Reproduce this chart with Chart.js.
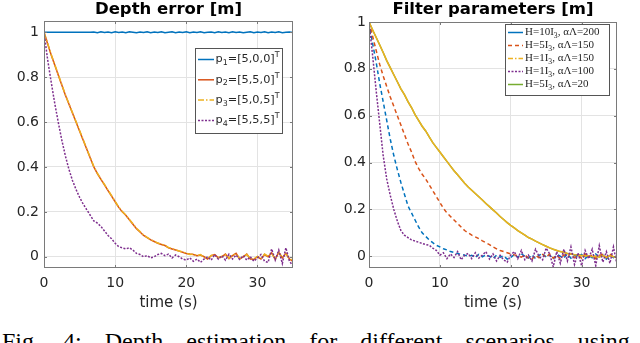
<!DOCTYPE html>
<html>
<head>
<meta charset="utf-8">
<script src="https://cdn.jsdelivr.net/npm/chart.js@4.4.1/dist/chart.umd.min.js"></script>
<style>
  body { margin: 0; width: 640px; height: 343px; overflow: hidden; background: #fff; position: relative; }
  canvas { position: absolute; top: 0; }
  #left { left: 0; }
  #right { left: 320px; }
  #caption {
    position: absolute; left: 2px; top: 329px;
    font-family: "Liberation Serif", serif; font-size: 24px; line-height: 24px;
    word-spacing: 17px; white-space: nowrap; color: #000;
  }
</style>
</head>
<body>
<canvas id="left" width="320" height="312"></canvas>
<canvas id="right" width="320" height="312"></canvas>
<div id="caption">Fig. 4: Depth estimation for different scenarios using</div>
<script>
// time axis (s), sampled every 0.5 s
const time = [
  0, 0.5, 1, 1.5, 2, 2.5, 3, 3.5, 4, 4.5,
  5, 5.5, 6, 6.5, 7, 7.5, 8, 8.5, 9, 9.5,
  10, 10.5, 11, 11.5, 12, 12.5, 13, 13.5, 14, 14.5,
  15, 15.5, 16, 16.5, 17, 17.5, 18, 18.5, 19, 19.5,
  20, 20.5, 21, 21.5, 22, 22.5, 23, 23.5, 24, 24.5,
  25, 25.5, 26, 26.5, 27, 27.5, 28, 28.5, 29, 29.5,
  30, 30.5, 31, 31.5, 32, 32.5, 33, 33.5, 34, 34.5,
  35
];

// left panel: depth error
const depthP1 = [
  1, 1, 1, 1, 1, 1, 1, 1, 1, 1,
  1, 1, 1, 1, 1.001, 0.998, 1.002, 0.999, 1.001, 0.998,
  1.002, 0.999, 1.001, 0.998, 1.002, 1, 0.998, 1.001, 0.999, 1.002,
  0.998, 1.001, 0.999, 1.002, 0.998, 1, 1.002, 0.998, 1.001, 0.999,
  1.002, 0.998, 1.001, 0.999, 1.002, 0.998, 1, 1.001, 0.998, 1.002,
  0.999, 1.001, 0.998, 1.002, 0.999, 1.001, 0.998, 1, 1.002, 0.998,
  1.001, 0.999, 1.002, 0.998, 1.001, 0.999, 1.002, 0.998, 1, 1.001,
  0.999
];
const depthP2 = [
  1.00, 0.95, 0.90, 0.855, 0.81, 0.765, 0.72, 0.68, 0.64, 0.60,
  0.56, 0.52, 0.48, 0.44, 0.40, 0.37, 0.345, 0.32, 0.295, 0.27,
  0.245, 0.22, 0.20, 0.185, 0.165, 0.145, 0.125, 0.11, 0.095, 0.085,
  0.075, 0.068, 0.06, 0.055, 0.05, 0.04, 0.035, 0.03, 0.025, 0.02,
  0.015, 0.012, 0.01, 0.005, 0.008, 0.0, -0.01, 0.005, 0.01, -0.005,
  0.0, 0.012, -0.008, 0.005, 0.015, -0.01, 0.0, 0.012, -0.01, -0.012,
  0.0, -0.01, 0.01, 0.0, 0.018, -0.012, 0.02, -0.005, 0.015, -0.01,
  -0.02
];
const depthP3 = [
  1.00, 0.952, 0.902, 0.857, 0.812, 0.767, 0.722, 0.682, 0.642, 0.602,
  0.562, 0.522, 0.482, 0.442, 0.402, 0.372, 0.347, 0.322, 0.297, 0.272,
  0.247, 0.222, 0.202, 0.186, 0.166, 0.147, 0.127, 0.112, 0.097, 0.086,
  0.076, 0.069, 0.061, 0.056, 0.051, 0.041, 0.036, 0.031, 0.026, 0.021,
  0.016, 0.01, 0.012, 0.004, 0.01, -0.002, -0.008, 0.006, 0.008, -0.004,
  0.002, 0.01, -0.006, 0.007, 0.013, -0.008, 0.002, 0.01, -0.008, -0.01,
  0.002, -0.008, 0.012, 0.002, 0.015, -0.01, 0.018, -0.003, 0.012, -0.008,
  -0.015
];
const depthP4 = [
  1.00, 0.88, 0.78, 0.685, 0.60, 0.52, 0.45, 0.39, 0.34, 0.30,
  0.265, 0.235, 0.21, 0.185, 0.16, 0.15, 0.135, 0.115, 0.095, 0.08,
  0.06, 0.045, 0.04, 0.035, 0.04, 0.03, 0.015, 0.01, 0.0, 0.005,
  -0.005, 0.0, 0.01, 0.015, 0.005, 0.012, -0.005, 0.008, 0.0, -0.01,
  -0.015, -0.005, -0.02, -0.01, -0.025, -0.01, 0.0, -0.015, 0.01, -0.01,
  0.005, -0.015, 0.012, -0.01, 0.008, -0.012, 0.005, -0.015, 0.0, -0.02,
  -0.005, 0.01, -0.02, -0.025, 0.035, -0.015, 0.03, -0.03, 0.04, -0.02,
  -0.04
];

// right panel: filter parameters
const filtH10 = [
  1.0, 0.91, 0.83, 0.74, 0.66, 0.58, 0.50, 0.43, 0.37, 0.315,
  0.265, 0.215, 0.185, 0.155, 0.125, 0.10, 0.085, 0.07, 0.058, 0.047,
  0.04, 0.032, 0.027, 0.02, 0.016, 0.012, 0.008, 0.005, 0.0, 0.004,
  -0.005, 0.008, -0.002, 0.006, 0.0, -0.01, 0.005, -0.004, 0.002, -0.012,
  -0.006, 0.008, -0.004, 0.01, 0.0, -0.008, 0.006, -0.01, 0.004, 0.012,
  -0.004, 0.006, -0.012, 0.008, 0.0, -0.006, 0.01, -0.008, 0.004, -0.002,
  0.008, -0.01, 0.004, -0.006, 0.01, -0.004, 0.006, -0.012, 0.004, -0.006,
  0.0
];
const filtH5 = [
  1.0, 0.94, 0.88, 0.82, 0.77, 0.725, 0.68, 0.64, 0.60, 0.56,
  0.52, 0.48, 0.445, 0.405, 0.375, 0.35, 0.33, 0.305, 0.28, 0.255,
  0.23, 0.205, 0.185, 0.17, 0.155, 0.14, 0.125, 0.11, 0.1, 0.09,
  0.083, 0.075, 0.066, 0.058, 0.05, 0.04, 0.032, 0.025, 0.02, 0.015,
  0.01, 0.006, 0.002, -0.004, 0.006, -0.008, -0.012, 0.004, -0.006, 0.008,
  -0.004, 0.01, -0.008, 0.004, -0.01, 0.006, 0.0, 0.012, -0.006, 0.004,
  -0.008, 0.01, -0.004, 0.006, -0.01, 0.004, 0.008, -0.006, 0.01, -0.004,
  0.002
];
const filtH1a = [
  1.0, 0.967, 0.935, 0.903, 0.87, 0.835, 0.805, 0.775, 0.745, 0.715,
  0.69, 0.66, 0.635, 0.605, 0.58, 0.555, 0.535, 0.51, 0.485, 0.465,
  0.445, 0.425, 0.405, 0.385, 0.365, 0.348, 0.33, 0.312, 0.296, 0.282,
  0.268, 0.254, 0.24, 0.225, 0.212, 0.198, 0.185, 0.17, 0.157, 0.144,
  0.132, 0.121, 0.11, 0.1, 0.09, 0.08, 0.073, 0.065, 0.057, 0.05,
  0.043, 0.036, 0.03, 0.025, 0.02, 0.017, 0.012, 0.01, 0.007, 0.005,
  0.003, 0.0, 0.002, -0.002, 0.0, -0.003, 0.003, -0.004, 0.002, -0.002,
  -0.006
];
const filtH1b = [
  1.0, 0.86, 0.71, 0.57, 0.43, 0.33, 0.26, 0.2, 0.15, 0.11,
  0.09, 0.08, 0.07, 0.065, 0.06, 0.055, 0.05, 0.047, 0.035, 0.025,
  0.005, 0.015, -0.01, 0.01, -0.005, 0.02, -0.015, 0.005, 0.012, -0.01,
  0.015, -0.008, 0.005, 0.02, -0.012, 0.01, -0.02, 0.004, -0.015, -0.025,
  0.005, 0.02, -0.01, 0.025, -0.015, 0.005, -0.02, 0.03, 0.0, -0.015,
  0.035, 0.01, -0.045, 0.02, -0.03, 0.03, -0.02, 0.04, -0.035, 0.015,
  -0.04, 0.025, -0.01, 0.03, -0.04, 0.045, -0.025, 0.02, -0.03, 0.04,
  -0.035
];
const filtH5b = [
  1.0, 0.967, 0.935, 0.903, 0.87, 0.835, 0.805, 0.775, 0.745, 0.715,
  0.69, 0.66, 0.635, 0.605, 0.58, 0.555, 0.535, 0.51, 0.485, 0.465,
  0.445, 0.425, 0.405, 0.385, 0.365, 0.348, 0.33, 0.312, 0.296, 0.282,
  0.268, 0.254, 0.24, 0.225, 0.212, 0.198, 0.185, 0.17, 0.157, 0.144,
  0.132, 0.121, 0.11, 0.1, 0.09, 0.08, 0.073, 0.065, 0.057, 0.05,
  0.043, 0.036, 0.03, 0.025, 0.02, 0.017, 0.012, 0.01, 0.007, 0.005,
  0.003, 0.0, 0.002, -0.002, 0.0, -0.003, 0.003, -0.004, 0.002, -0.002,
  -0.006
];

const xTicks = [0, 10, 20, 30];
const yTicks = [0, 0.2, 0.4, 0.6, 0.8, 1];
const depthLabels = ['p₁=[5,0,0]ᵀ', 'p₂=[5,5,0]ᵀ', 'p₃=[5,0,5]ᵀ', 'p₄=[5,5,5]ᵀ'];
const filterLabels = ['H=10I₃, αΛ=200', 'H=5I₃, αΛ=150', 'H=1I₃, αΛ=150', 'H=1I₃, αΛ=100', 'H=5I₃, αΛ=20'];

const BLUE = '#0072BD', ORANGE = '#D95319', YELLOW = '#EDB120', PURPLE = '#7E2F8E', GREEN = '#77AC30';
const TXT = '#262626';

function pts(ys) {
  return time.map((t, i) => ({ x: t, y: ys[i] }));
}

// sub/superscript glyphs drawn as small normal digits, like tex in matlab
const SUB = { '₁': '1', '₂': '2', '₃': '3', '₄': '4' };
const SUP = { 'ᵀ': 'T' };

function drawRich(ctx, text, x, y, size, family) {
  for (const ch of text) {
    let s = ch, fs = size, dy = 0;
    if (SUB[ch]) { s = SUB[ch]; fs = size * 0.7; dy = size * 0.3; }
    else if (SUP[ch]) { s = SUP[ch]; fs = size * 0.7; dy = -size * 0.38; }
    ctx.font = fs + 'px ' + family;
    ctx.fillText(s, x, y + dy);
    x += ctx.measureText(s).width;
  }
}

// box, inward ticks, legend and title, matlab style
const frame = {
  id: 'frame',
  afterDatasetsDraw(chart, args, o) {
    const ctx = chart.ctx, a = chart.chartArea;
    const sx = chart.scales.x, sy = chart.scales.y;
    ctx.save();
    ctx.strokeStyle = '#7a7a7a';
    ctx.lineWidth = 1;
    ctx.setLineDash([]);
    ctx.strokeRect(Math.round(a.left) + 0.5, Math.round(a.top) + 0.5,
      Math.round(a.right - a.left) - 1, Math.round(a.bottom - a.top) - 1);
    ctx.beginPath();
    xTicks.forEach(v => {
      const px = Math.round(sx.getPixelForValue(v)) + 0.5;
      ctx.moveTo(px, a.bottom); ctx.lineTo(px, a.bottom - 3);
      ctx.moveTo(px, a.top); ctx.lineTo(px, a.top + 3);
    });
    yTicks.forEach(v => {
      const py = Math.round(sy.getPixelForValue(v)) + 0.5;
      ctx.moveTo(a.left, py); ctx.lineTo(a.left + 3, py);
      ctx.moveTo(a.right, py); ctx.lineTo(a.right - 3, py);
    });
    ctx.stroke();

    // legend
    const b = o.box;
    ctx.fillStyle = '#fff';
    ctx.fillRect(b[0], b[1], b[2], b[3]);
    ctx.strokeStyle = '#555';
    ctx.strokeRect(b[0] + 0.5, b[1] + 0.5, b[2], b[3]);
    ctx.textBaseline = 'middle';
    ctx.textAlign = 'left';
    chart.data.datasets.forEach((ds, i) => {
      const y = o.row0 + i * o.rowH;
      ctx.strokeStyle = ds.borderColor;
      ctx.lineWidth = 1.5;
      ctx.setLineDash(ds.legendDash || ds.borderDash || []);
      ctx.beginPath();
      ctx.moveTo(o.lineX[0], y); ctx.lineTo(o.lineX[1], y);
      ctx.stroke();
      ctx.fillStyle = TXT;
      drawRich(ctx, ds.label, o.textX, y, o.fontSize, o.fontFamily);
    });

    // title
    ctx.font = 'bold 16.5px "DejaVu Sans"';
    ctx.textAlign = 'center';
    ctx.textBaseline = 'alphabetic';
    ctx.fillStyle = '#000';
    ctx.fillText(o.title, (a.left + a.right) / 2, 14);
    ctx.restore();
  }
};

function makeOptions(yMax, yWidth, padRight, padTop, tickPad, frameOpts) {
  return {
    responsive: false,
    animation: false,
    layout: { padding: { left: 0, right: padRight, top: padTop, bottom: 0 } },
    elements: { point: { radius: 0 }, line: { tension: 0, borderWidth: 1.5 } },
    plugins: { legend: { display: false }, tooltip: { enabled: false }, frame: frameOpts },
    scales: {
      x: {
        type: 'linear', min: 0, max: 35,
        afterBuildTicks: s => { s.ticks = xTicks.map(v => ({ value: v })); },
        afterFit: s => { s.height = 44; },
        grid: { color: '#e3e3e3', drawTicks: false },
        border: { display: false },
        ticks: { padding: 7, color: TXT, font: { family: 'DejaVu Sans', size: 14 }, maxRotation: 0 },
        title: { display: true, text: 'time (s)', color: TXT, padding: 0,
          font: { family: 'DejaVu Sans', size: 15 } }
      },
      y: {
        min: -0.05, max: yMax,
        afterBuildTicks: s => { s.ticks = yTicks.map(v => ({ value: v })); },
        afterFit: s => { s.width = yWidth; },
        grid: { color: '#e3e3e3', drawTicks: false },
        border: { display: false },
        ticks: { padding: tickPad, color: TXT, font: { family: 'DejaVu Sans', size: 14 },
          callback: v => String(+v.toFixed(2)) }
      }
    }
  };
}

new Chart(document.getElementById('left'), {
  type: 'line',
  data: {
    datasets: [
      { label: depthLabels[0], data: pts(depthP1), borderColor: BLUE, order: 4 },
      { label: depthLabels[1], data: pts(depthP2), borderColor: ORANGE, order: 3 },
      { label: depthLabels[2], data: pts(depthP3), borderColor: YELLOW, borderDash: [6, 2, 1.5, 2], order: 2 },
      { label: depthLabels[3], data: pts(depthP4), borderColor: PURPLE, borderDash: [2, 1.5], order: 1 }
    ]
  },
  plugins: [frame],
  options: makeOptions(1.05, 44, 27, 21, 5, {
    title: 'Depth error [m]', box: [195, 48, 87, 85], row0: 59.5, rowH: 20.3,
    lineX: [198, 214], textX: 215.5, fontSize: 11.3, fontFamily: '"DejaVu Sans"'
  })
});

new Chart(document.getElementById('right'), {
  type: 'line',
  data: {
    datasets: [
      { label: filterLabels[0], data: pts(filtH10), borderColor: BLUE, borderDash: [4, 3], legendDash: [], order: 5 },
      { label: filterLabels[1], data: pts(filtH5), borderColor: ORANGE, borderDash: [4, 3], order: 4 },
      { label: filterLabels[2], data: pts(filtH1a), borderColor: YELLOW, legendDash: [5, 2, 1.5, 2], order: 3 },
      { label: filterLabels[3], data: pts(filtH1b), borderColor: PURPLE, borderDash: [2, 1.5], order: 2 },
      { label: filterLabels[4], data: pts(filtH5b), borderColor: GREEN, order: 6 }
    ]
  },
  plugins: [frame],
  options: makeOptions(1.0, 49, 23, 22, 3, {
    title: 'Filter parameters [m]', box: [185, 24, 104, 71], row0: 32.5, rowH: 13,
    lineX: [188, 203], textX: 205, fontSize: 11, fontFamily: '"Liberation Serif"'
  })
});
</script>
</body>
</html>
